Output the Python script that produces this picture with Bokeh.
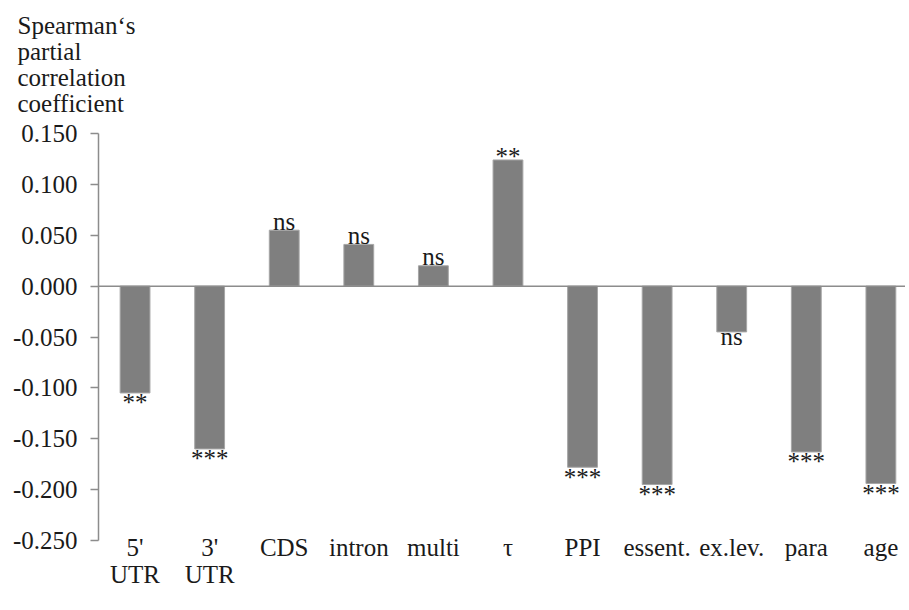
from bokeh.plotting import figure
from bokeh.models import Range1d, FixedTicker, Title, Span, ColumnDataSource, NumeralTickFormatter
from bokeh.embed import file_html
from bokeh.resources import INLINE
from bokeh.core.properties import value

# ---- data ----
categories = ["5'\nUTR", "3'\nUTR", "CDS", "intron", "multi", "τ", "PPI",
              "essent.", "ex.lev.", "para", "age"]
coefficients = [-0.105, -0.160, 0.055, 0.041, 0.020, 0.124, -0.178,
                -0.195, -0.045, -0.163, -0.194]
significance = ["**", "***", "ns", "ns", "ns", "**", "***",
                "***", "ns", "***", "***"]
y_ticks = [0.15, 0.10, 0.05, 0.0, -0.05, -0.10, -0.15, -0.20, -0.25]
y_title_lines = ["Spearman\u2018s", "partial", "correlation", "coefficient"]

FONT = "'Liberation Serif', 'Times New Roman', serif"
GRAY = "#8c8c8c"
TXT = "#1a1a1a"

positions = list(range(len(categories)))

# label offsets (screen px) derived from sign and label kind
offsets = []
for c, s in zip(coefficients, significance):
    if c >= 0:
        offsets.append(-9 if s == "ns" else -3)
    else:
        offsets.append(5 if s == "ns" else 10)

src = ColumnDataSource(dict(x=positions, top=coefficients, sig=significance, off=offsets))

p = figure(frame_width=807, frame_height=407, output_backend="svg", toolbar_location=None,
           title=None,
           x_range=Range1d(-0.49, 10.33), y_range=Range1d(-0.25, 0.15),
           min_border_left=98, min_border_right=0, min_border_top=133, min_border_bottom=40)
p.outline_line_color = None
p.xgrid.grid_line_color = None
p.ygrid.grid_line_color = None
p.background_fill_color = "white"

p.vbar(x="x", top="top", bottom=0, width=0.4, source=src,
       fill_color="#7f7f7f", line_color="#a6a6a6", line_width=1)

p.add_layout(Span(location=0, dimension="width", line_color=GRAY, line_width=1.5))

p.text(x="x", y="top", text="sig", y_offset="off", source=src,
       text_font=value(FONT), text_font_size="25px", text_color=TXT,
       text_align="center", text_baseline="alphabetic")

# y axis
ya = p.yaxis[0]
ya.ticker = FixedTicker(ticks=y_ticks)
ya.formatter = NumeralTickFormatter(format="0.000")
ya.axis_line_color = GRAY
ya.axis_line_width = 1.5
ya.major_tick_line_color = GRAY
ya.major_tick_line_width = 1.5
ya.major_tick_out = 8
ya.major_tick_in = 0
ya.minor_tick_line_color = None
ya.major_label_standoff = 13
ya.major_label_text_font = FONT
ya.major_label_text_font_size = "25px"
ya.major_label_text_color = TXT

# x axis
xa = p.xaxis[0]
xa.ticker = FixedTicker(ticks=positions)
xa.major_label_overrides = {i: c for i, c in zip(positions, categories)}
xa.axis_line_color = None
xa.major_tick_line_color = None
xa.major_tick_out = 0
xa.major_tick_in = 0
xa.minor_tick_line_color = None
xa.major_label_standoff = -7
xa.major_label_text_font = FONT
xa.major_label_text_font_size = "25px"
xa.major_label_text_color = TXT
xa.major_label_text_line_height = 1.0

# spacer between the frame and the stacked y-axis title
p.add_layout(Title(text=" ", text_font_size="14px", standoff=0), "above")
# y-axis title: stacked single-line titles above the frame (bottom line added first)
for line in reversed(y_title_lines):
    p.add_layout(Title(text=line, align="left", offset=-81, standoff=-3,
                       text_font=FONT, text_font_size="25px", text_font_style="normal",
                       text_color=TXT), "above")

open("out.html", "w").write(file_html(p, INLINE))
